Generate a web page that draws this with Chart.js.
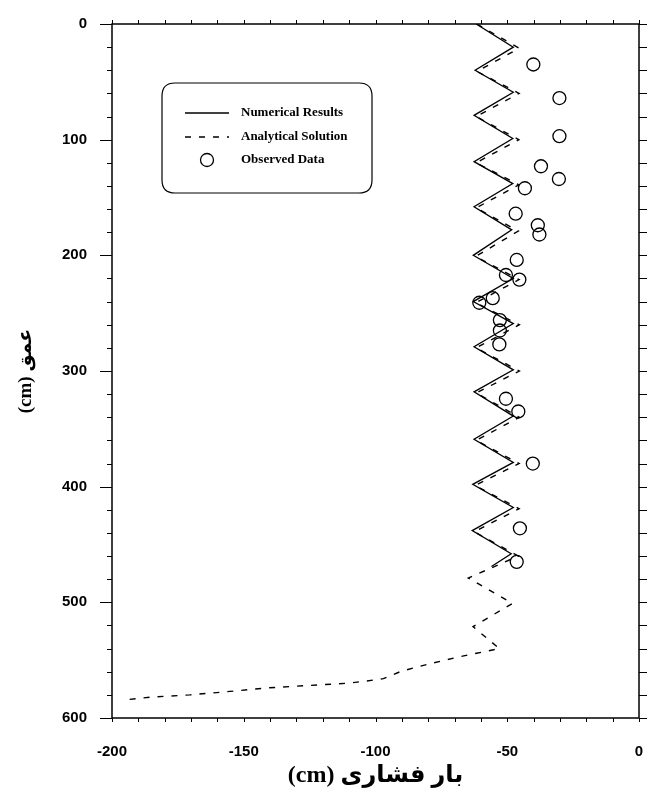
<!DOCTYPE html>
<html>
<head>
<meta charset="utf-8">
<script src="https://cdn.jsdelivr.net/npm/chart.js@4/dist/chart.umd.min.js"></script>
<style>
  html, body { margin: 0; padding: 0; background: #fff; }
  #wrap { width: 647px; height: 795px; }
</style>
</head>
<body>
<div id="wrap"><canvas id="c" width="647" height="795"></canvas></div>
<script>
// ---- data (pressure head in cm, depth in cm) ----
const seriesLabels = ['Numerical Results', 'Analytical Solution', 'Observed Data'];

const numDepth    = [0, 20, 40, 59, 79, 99, 119, 138, 158, 178, 200, 220, 240, 259, 279, 299, 318, 339, 359, 379, 398, 418, 438, 458, 469];
const numPressure = [-61.8, -47.7, -62.2, -47.7, -62.6, -47.9, -62.6, -47.9, -62.6, -48.3, -62.9, -47.7, -62.9, -47.7, -62.6, -47.7, -62.6, -47.7, -62.6, -47.7, -63.1, -47.7, -63.3, -48.5, -56];

const anaDepth    = [0, 21, 41, 60, 80, 100, 120, 139, 159, 179, 201, 221, 241, 260, 280, 300, 319, 340, 360, 380, 399, 419, 439, 460, 479, 501, 521, 540, 544, 547, 551, 556, 560, 566, 568, 570, 572, 574, 577, 580, 582, 584];
const anaPressure = [-61.5, -45.5, -61.5, -45.5, -61.8, -45.6, -61.8, -45.6, -61.8, -45.8, -62, -45.5, -62, -45.4, -61.8, -45.4, -61.8, -45.4, -61.8, -45.5, -62.2, -45.5, -62.5, -45.8, -64.8, -48, -63, -53, -61.6, -68, -75.5, -84.4, -90.7, -97, -103.3, -110.9, -126.1, -141.3, -155.2, -170.4, -185.6, -193.8];

const obsDepth    = [35, 64, 97, 123, 134, 142, 164, 174, 182, 204, 217, 221, 237, 241, 256, 265, 277, 324, 335, 380, 436, 465];
const obsPressure = [-40.1, -30.2, -30.2, -37.2, -30.4, -43.3, -46.8, -38.4, -37.8, -46.4, -50.5, -45.4, -55.5, -60.6, -52.8, -52.8, -53, -50.5, -45.8, -40.3, -45.2, -46.4];

const xTickValues = [-200, -150, -100, -50, 0];
const yTickValues = [0, 100, 200, 300, 400, 500, 600];
const xTitle = '(cm) بار فشاری';
const yTitle = '(cm) عمق';

function pts(xs, ys) { return xs.map((x, i) => ({ x: x, y: ys[i] })); }

// ---- frame, minor ticks and boxed legend ----
const framePlugin = {
  id: 'frameTicksLegend',
  afterDraw(chart) {
    const ctx = chart.ctx;
    const a = chart.chartArea;
    const xs = chart.scales.x, ys = chart.scales.y;
    ctx.save();
    ctx.strokeStyle = '#000';
    ctx.lineWidth = 1.5;
    ctx.setLineDash([]);
    ctx.strokeRect(a.left, a.top, a.right - a.left, a.bottom - a.top);
    ctx.lineWidth = 1;
    ctx.beginPath();
    for (let v = xs.min; v <= xs.max; v += 10) {
      const p = Math.round(xs.getPixelForValue(v)) + 0.5;
      ctx.moveTo(p, a.top); ctx.lineTo(p, a.top - 4);
      ctx.moveTo(p, a.bottom); ctx.lineTo(p, a.bottom + 4);
    }
    for (let v = ys.min; v <= ys.max; v += 20) {
      const p = Math.round(ys.getPixelForValue(v)) + 0.5;
      const len = (v % 100 === 0) ? 12 : 5;
      ctx.moveTo(a.left, p); ctx.lineTo(a.left - len, p);
      ctx.moveTo(a.right, p); ctx.lineTo(a.right + 8, p);
    }
    ctx.stroke();

    // legend box
    const bx = a.left + 50, by = a.top + 59, bw = 210, bh = 110, r = 13;
    ctx.lineWidth = 1.2;
    ctx.beginPath();
    ctx.moveTo(bx + r, by);
    ctx.lineTo(bx + bw - r, by);
    ctx.quadraticCurveTo(bx + bw, by, bx + bw, by + r);
    ctx.lineTo(bx + bw, by + bh - r);
    ctx.quadraticCurveTo(bx + bw, by + bh, bx + bw - r, by + bh);
    ctx.lineTo(bx + r, by + bh);
    ctx.quadraticCurveTo(bx, by + bh, bx, by + bh - r);
    ctx.lineTo(bx, by + r);
    ctx.quadraticCurveTo(bx, by, bx + r, by);
    ctx.stroke();

    const rows = [by + 30, by + 54, by + 77];
    const sx0 = bx + 23, sx1 = bx + 67, tx = bx + 79;
    chart.data.datasets.forEach((ds, i) => {
      const yy = rows[i];
      ctx.strokeStyle = '#000';
      if (ds.showLine) {
        ctx.lineWidth = ds.borderWidth;
        ctx.setLineDash(ds.borderDash || []);
        ctx.beginPath(); ctx.moveTo(sx0, yy); ctx.lineTo(sx1, yy); ctx.stroke();
        ctx.setLineDash([]);
      } else {
        ctx.lineWidth = ds.pointBorderWidth;
        ctx.beginPath(); ctx.arc((sx0 + sx1) / 2, yy, ds.pointRadius, 0, Math.PI * 2); ctx.stroke();
      }
      ctx.fillStyle = '#000';
      ctx.font = "bold 13px 'Liberation Serif', 'Times New Roman', serif";
      ctx.textAlign = 'left';
      ctx.textBaseline = 'middle';
      ctx.fillText(ds.label, tx, yy);
    });
    ctx.restore();
  }
};

const tickFont = { family: "'Liberation Sans', Arial, sans-serif", weight: 'bold', size: 15 };

new Chart(document.getElementById('c'), {
  type: 'scatter',
  data: {
    datasets: [
      { label: seriesLabels[0], data: pts(numPressure, numDepth), showLine: true, borderColor: '#000', borderWidth: 1.3, pointRadius: 0, fill: false, tension: 0 },
      { label: seriesLabels[1], data: pts(anaPressure, anaDepth), showLine: true, borderColor: '#000', borderWidth: 1.4, borderDash: [6, 8], pointRadius: 0, fill: false, tension: 0 },
      { label: seriesLabels[2], data: pts(obsPressure, obsDepth), showLine: false, pointRadius: 6.5, pointHoverRadius: 6.5, pointBackgroundColor: 'rgba(0,0,0,0)', pointBorderColor: '#000', pointBorderWidth: 1.3 }
    ]
  },
  options: {
    responsive: false,
    animation: false,
    devicePixelRatio: 1,
    layout: { padding: { top: 24, right: 8, left: 0, bottom: 0 } },
    plugins: { legend: { display: false }, tooltip: { enabled: false } },
    scales: {
      x: {
        type: 'linear', position: 'bottom', min: -200, max: 0,
        afterBuildTicks: s => { s.ticks = xTickValues.map(v => ({ value: v })); },
        afterFit: s => { s.height = 77; s.paddingLeft = 0; s.paddingRight = 0; },
        ticks: { font: tickFont, color: '#000', padding: 25, maxRotation: 0, autoSkip: false, callback: v => String(v) },
        grid: { display: false, drawTicks: false },
        border: { display: false },
        title: { display: true, text: xTitle, color: '#000', font: { family: "'Liberation Serif', 'DejaVu Sans', serif", weight: 'bold', size: 24 }, padding: { top: 0, bottom: 5 } }
      },
      y: {
        type: 'linear', position: 'left', min: 0, max: 600, reverse: true,
        afterBuildTicks: s => { s.ticks = yTickValues.map(v => ({ value: v })); },
        afterFit: s => { s.width = 112; s.paddingTop = 0; s.paddingBottom = 0; },
        ticks: { font: tickFont, color: '#000', padding: 25, autoSkip: false, callback: v => String(v) },
        grid: { display: false, drawTicks: false },
        border: { display: false },
        title: { display: true, text: yTitle, color: '#000', font: { family: "'Liberation Serif', 'DejaVu Sans', serif", weight: 'bold', size: 19 }, padding: { top: 15, bottom: 0 } }
      }
    }
  },
  plugins: [framePlugin]
});
</script>
</body>
</html>
